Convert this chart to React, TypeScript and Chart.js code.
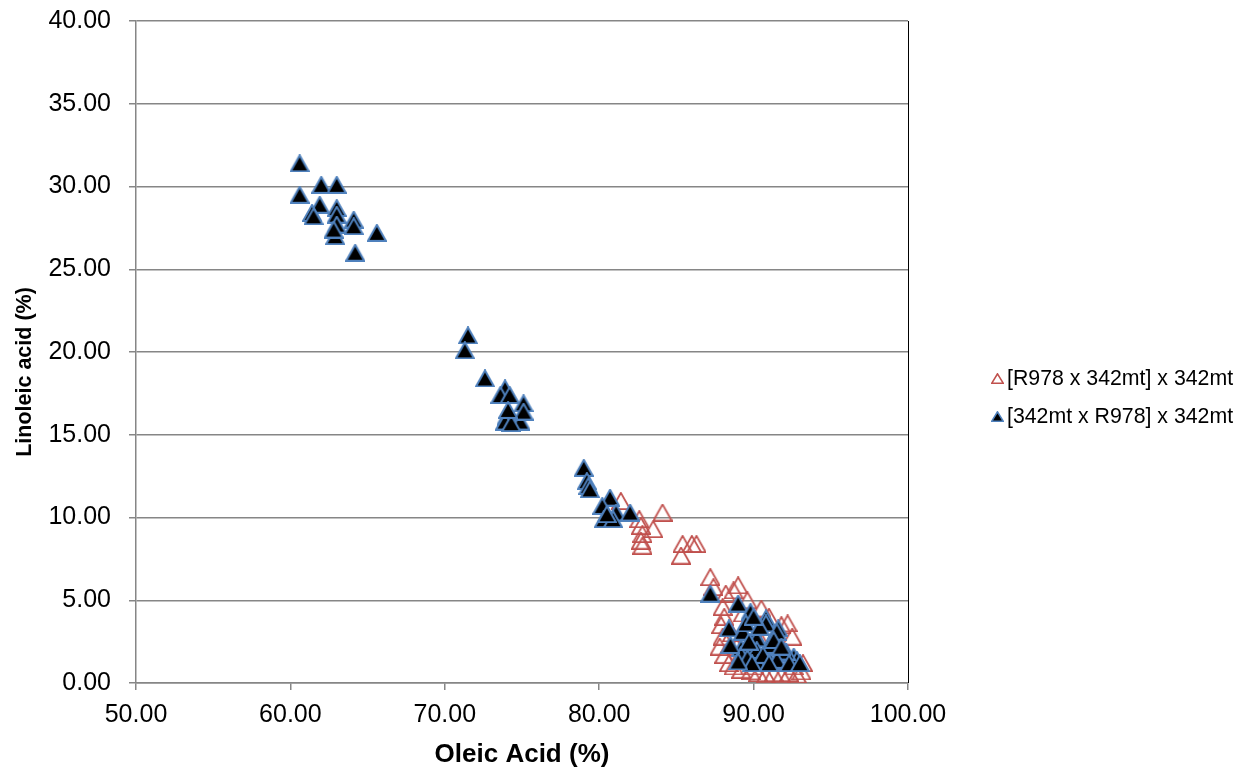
import React, { useEffect, useRef } from 'react';
import { Chart, registerables } from 'chart.js';

Chart.register(...registerables);

// ---- data ----
const seriesNames = ['[R978 x 342mt] x 342mt', '[342mt x R978] x 342mt'];
const xAxisTitle = 'Oleic Acid (%)';
const yAxisTitle = 'Linoleic acid (%)';

const redOleic = [
  81.4, 82.6, 82.7, 82.8, 82.7, 82.8, 83.5, 84.1, 85.4, 85.3, 86.0, 86.3,
  87.2, 87.4, 88.2, 88.7, 89.0, 88.0, 88.1, 87.9, 88.0, 87.8, 88.1, 88.4,
  88.7, 89.2, 89.8, 90.3, 90.8, 91.3, 91.8, 92.3, 92.8, 93.1, 93.2, 92.5,
  92.2, 91.8, 91.0, 90.5, 89.6, 89.3, 88.6, 88.9, 89.5, 90.0, 91.0, 91.5,
  90.5, 89.9, 92.0, 92.6,
];
const redLinoleic = [
  11.0, 9.9, 9.5, 9.0, 8.6, 8.3, 9.3, 10.3, 8.4, 7.7, 8.4, 8.4,
  6.4, 5.8, 5.4, 5.6, 5.9, 4.6, 4.0, 3.5, 2.8, 2.2, 1.7, 1.2,
  1.0, 0.8, 0.7, 0.6, 0.5, 0.6, 0.5, 0.6, 0.5, 0.7, 1.2, 2.8,
  3.6, 3.5, 4.0, 4.5, 5.0, 4.2, 3.0, 2.2, 1.5, 1.0, 1.2, 2.0,
  2.5, 3.3, 1.5, 1.0,
];

const blackOleic = [
  60.6, 62.0, 63.0, 60.6, 61.9, 61.4, 61.5, 63.0, 63.0, 63.0, 64.1, 64.1, 62.9, 65.6, 64.2, 62.8,
  71.5, 71.3, 72.6, 73.9, 73.6, 74.2, 75.1, 74.0, 74.9, 73.9, 74.3, 75.1, 74.1,
  79.0, 79.2, 79.3, 79.4, 80.7, 80.2, 81.1, 82.0, 80.3, 80.9, 80.5,
  87.2, 89.0, 89.8, 90.8, 91.6, 88.4, 89.3, 90.1, 91.0, 89.2, 89.9, 89.2, 92.0, 92.6, 92.8,
  91.1, 90.8, 91.5, 90.2, 90.2, 92.1, 91.5, 90.3, 88.5, 89.6, 89.5, 90.4, 90.0, 89.7, 90.6,
  91.3, 91.8, 92.3, 91.0, 89.9, 89.0, 93.0,
];
const blackLinoleic = [
  31.4, 30.1, 30.1, 29.5, 28.9, 28.4, 28.2, 28.7, 28.3, 27.7, 28.0, 27.6, 27.0, 27.2, 26.0, 27.4,
  21.0, 20.1, 18.4, 17.8, 17.4, 17.4, 16.9, 16.1, 15.8, 15.8, 15.7, 16.4, 16.5,
  13.0, 12.2, 11.9, 11.7, 11.2, 10.7, 10.3, 10.3, 9.9, 9.9, 10.2,
  5.4, 4.8, 4.3, 3.9, 3.3, 3.3, 3.1, 2.9, 2.3, 2.1, 1.9, 1.7, 1.8, 1.6, 1.4,
  1.3, 3.6, 3.1, 2.7, 2.0, 1.9, 1.4, 1.2, 2.3, 1.5, 3.6, 3.4, 4.0, 2.5, 1.7,
  2.6, 2.2, 1.2, 1.2, 1.2, 1.3, 1.2,
];

const xMin = 50;
const xMax = 100;
const xStep = 10;
const yMin = 0;
const yMax = 40;
const yStep = 5;

// ---- styles ----
const RED = '#C0504D';
const BLUE = '#4F81BD';
const GRID = '#868686';
const FONT = "'Liberation Sans', Arial, Helvetica, sans-serif";

function makeTriangle(w: number, h: number, fill: string | null, stroke: string, lw: number) {
  const c = document.createElement('canvas');
  c.width = w;
  c.height = h;
  const ctx = c.getContext('2d')!;
  ctx.beginPath();
  ctx.moveTo(w / 2, lw / 2);
  ctx.lineTo(w - lw / 2, h - lw / 2);
  ctx.lineTo(lw / 2, h - lw / 2);
  ctx.closePath();
  if (fill) {
    ctx.fillStyle = fill;
    ctx.fill();
  }
  ctx.lineJoin = 'miter';
  ctx.lineWidth = lw;
  ctx.strokeStyle = stroke;
  ctx.stroke();
  return c;
}

export default function App() {
  const ref = useRef<HTMLCanvasElement | null>(null);

  useEffect(() => {
    if (!ref.current) return;
    const redMarker = makeTriangle(20, 18, null, RED, 1.8);
    const blackMarker = makeTriangle(20, 18, '#000000', BLUE, 2);
    const redLegend = makeTriangle(13, 11, null, RED, 1.6);
    const blackLegend = makeTriangle(13, 11, '#000000', BLUE, 1.6);
    const legendMarkers = [redLegend, blackLegend];

    const redData = redOleic.map((x, i) => ({ x, y: redLinoleic[i] }));
    const blackData = blackOleic.map((x, i) => ({ x, y: blackLinoleic[i] }));

    const borderPlugin = {
      id: 'plotBorder',
      beforeDatasetsDraw(chart: any) {
        const { ctx, chartArea } = chart;
        ctx.save();
        ctx.strokeStyle = '#000000';
        ctx.lineWidth = 1;
        ctx.beginPath();
        ctx.moveTo(chartArea.right + 0.5, chartArea.top);
        ctx.lineTo(chartArea.right + 0.5, chartArea.bottom);
        ctx.stroke();
        ctx.restore();
      },
    };

    const textPlugin = {
      id: 'customText',
      afterDraw(chart: any) {
        const { ctx } = chart;
        ctx.save();
        // y axis title
        ctx.font = `bold 21.5px ${FONT}`;
        ctx.fillStyle = '#000000';
        ctx.textAlign = 'center';
        ctx.textBaseline = 'middle';
        ctx.translate(25, 372);
        ctx.rotate(-Math.PI / 2);
        ctx.fillText(yAxisTitle, 0, 0);
        ctx.restore();

        // legend
        ctx.save();
        ctx.font = `21.3px ${FONT}`;
        ctx.fillStyle = '#000000';
        ctx.textBaseline = 'middle';
        ctx.textAlign = 'left';
        const cx = 997;
        const ys = [378, 416];
        seriesNames.forEach((name, i) => {
          const m = legendMarkers[i];
          ctx.drawImage(m, Math.round(cx - m.width / 2), Math.round(ys[i] - m.height / 2));
          ctx.fillText(name, 1007, ys[i] + 1);
        });
        ctx.restore();
      },
    };

    const chart = new Chart(ref.current, {
      type: 'scatter',
      data: {
        datasets: [
          {
            label: seriesNames[0],
            data: redData,
            pointStyle: redMarker as any,
            order: 1,
          },
          {
            label: seriesNames[1],
            data: blackData,
            pointStyle: blackMarker as any,
            order: 0,
          },
        ],
      },
      options: {
        responsive: false,
        animation: false,
        events: [],
        layout: { padding: { top: 21, right: 339, bottom: 0, left: 0 } },
        plugins: {
          legend: { display: false },
          tooltip: { enabled: false },
        },
        scales: {
          x: {
            type: 'linear',
            min: xMin,
            max: xMax,
            afterBuildTicks: (s: any) => {
              const t = [];
              for (let v = xMin; v <= xMax; v += xStep) t.push({ value: v });
              s.ticks = t;
            },
            ticks: {
              callback: (v: any) => Number(v).toFixed(2),
              font: { size: 25, family: FONT },
              color: '#000000',
              padding: 10,
              maxRotation: 0,
              autoSkip: false,
            },
            grid: { drawOnChartArea: false, drawTicks: true, tickLength: 7, color: GRID, lineWidth: 1.5 },
            border: { display: true, color: GRID, width: 1.5 },
            title: {
              display: true,
              text: xAxisTitle,
              font: { size: 26, weight: 'bold', family: FONT },
              color: '#000000',
              padding: { top: 0, bottom: 1 },
            },
            afterFit: (s: any) => {
              s.height = 88;
            },
          },
          y: {
            type: 'linear',
            min: yMin,
            max: yMax,
            afterBuildTicks: (s: any) => {
              const t = [];
              for (let v = yMin; v <= yMax; v += yStep) t.push({ value: v });
              s.ticks = t;
            },
            ticks: {
              callback: (v: any) => Number(v).toFixed(2),
              font: { size: 25, family: FONT },
              color: '#000000',
              padding: 18,
              autoSkip: false,
            },
            grid: { drawOnChartArea: true, drawTicks: true, tickLength: 7, color: GRID, lineWidth: 1.5 },
            border: { display: true, color: GRID, width: 1.5 },
            title: { display: false, text: yAxisTitle },
            afterFit: (s: any) => {
              s.width = 136;
              s.paddingTop = 0;
              s.paddingBottom = 0;
            },
          },
        },
      },
      plugins: [borderPlugin, textPlugin],
    });

    return () => chart.destroy();
  }, []);

  return (
    <div style={{ position: 'absolute', left: 0, top: 0, width: 1247, height: 771, background: '#fff' }}>
      <canvas ref={ref} width={1247} height={771} style={{ display: 'block' }} />
    </div>
  );
}
